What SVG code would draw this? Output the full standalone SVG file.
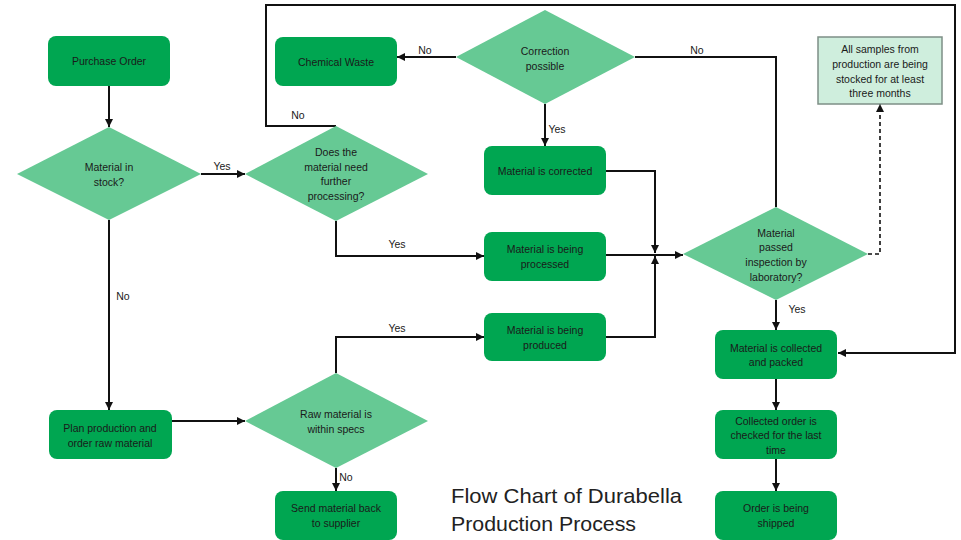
<svg xmlns="http://www.w3.org/2000/svg" width="961" height="540" viewBox="0 0 961 540">
<defs>
<marker id="ah" viewBox="0 0 10 10" refX="10" refY="5" markerWidth="8" markerHeight="8" markerUnits="userSpaceOnUse" orient="auto">
<path d="M0,0 L10,5 L0,10 z" fill="#111"/>
</marker>
<style>
.box{fill:#00a651;}
.dia{fill:#66c994;}
.note{fill:#cfeedd;stroke:#7e8f86;stroke-width:1.5;}
text{font-family:"Liberation Sans",Arial,sans-serif;font-size:10.5px;fill:#1a1a1a;text-anchor:middle;}
.lbl{text-anchor:middle;}
.ttl{font-family:"Liberation Sans",Arial,sans-serif;font-size:21px;fill:#222;text-anchor:start;}
.c{fill:none;stroke:#111;stroke-width:2;}
.ca{fill:none;stroke:#111;stroke-width:2;marker-end:url(#ah);}
.cd{fill:none;stroke:#111;stroke-width:1.6;stroke-dasharray:4,3;marker-end:url(#ah);}
</style>
</defs>
<rect width="961" height="540" fill="#ffffff"/>

<g id="connectors">
<path class="ca" d="M109,86 V127"/>
<path class="ca" d="M201,174 H245"/>
<path class="ca" d="M336,126 H266 V5 H955 V353 H838"/>
<path class="ca" d="M456,57 H397"/>
<path class="ca" d="M545,104 V146"/>
<path class="c" d="M776,207 V57 H635"/>
<path class="ca" d="M336,221 V256 H484"/>
<path class="ca" d="M336,373 V337 H484"/>
<path class="ca" d="M606,171 H655 V253"/>
<path class="ca" d="M606,337 H655 V256"/>
<path class="ca" d="M606,255 H683"/>
<path class="cd" d="M868,254 H880 V104"/>
<path class="ca" d="M109,220 V410"/>
<path class="ca" d="M172,421 H245"/>
<path class="ca" d="M336,468 V491"/>
<path class="ca" d="M776,300 V330"/>
<path class="ca" d="M776,379 V410"/>
<path class="ca" d="M776,459 V491"/>
<text x="222" y="170">Yes</text>
<text x="298" y="119">No</text>
<text x="425" y="54">No</text>
<text x="697" y="54">No</text>
<text x="557" y="133">Yes</text>
<text x="397" y="248">Yes</text>
<text x="397" y="332">Yes</text>
<text x="123" y="300">No</text>
<text x="346" y="481">No</text>
<text x="797" y="313">Yes</text>
</g>

<g id="purchase-order">
<rect class="box" x="48" y="36" width="122" height="50" rx="8"/>
<text x="109" y="65">Purchase Order</text>
</g>

<g id="material-in-stock">
<polygon class="dia" points="109,127 201,174 109,220 17,174"/>
<text x="109" y="171">Material in</text>
<text x="109" y="186">stock?</text>
</g>

<g id="further-processing">
<polygon class="dia" points="336,126 428,174 336,221 245,174"/>
<text x="336" y="156">Does the</text>
<text x="336" y="171">material need</text>
<text x="336" y="185">further</text>
<text x="336" y="200">processing?</text>
</g>

<g id="chemical-waste">
<rect class="box" x="275" y="37" width="122" height="49" rx="8"/>
<text x="336" y="66">Chemical Waste</text>
</g>

<g id="correction-possible">
<polygon class="dia" points="545,10 635,57 545,104 456,57"/>
<text x="545" y="55">Correction</text>
<text x="545" y="70">possible</text>
</g>

<g id="material-corrected">
<rect class="box" x="484" y="146" width="122" height="49" rx="8"/>
<text x="545" y="175">Material is corrected</text>
</g>

<g id="material-processed">
<rect class="box" x="484" y="232" width="122" height="49" rx="8"/>
<text x="545" y="253">Material is being</text>
<text x="545" y="268">processed</text>
</g>

<g id="material-produced">
<rect class="box" x="484" y="313" width="122" height="48" rx="8"/>
<text x="545" y="334">Material is being</text>
<text x="545" y="349">produced</text>
</g>

<g id="inspection">
<polygon class="dia" points="776,207 868,254 776,300 683,254"/>
<text x="776" y="237">Material</text>
<text x="776" y="251">passed</text>
<text x="776" y="266">inspection by</text>
<text x="776" y="281">laboratory?</text>
</g>

<g id="samples-note">
<rect class="note" x="818" y="37" width="124" height="67"/>
<text x="880" y="53">All samples from</text>
<text x="880" y="68">production are being</text>
<text x="880" y="83">stocked for at least</text>
<text x="880" y="97">three months</text>
</g>

<g id="collected-packed">
<rect class="box" x="715" y="330" width="122" height="49" rx="8"/>
<text x="776" y="352">Material is collected</text>
<text x="776" y="366">and packed</text>
</g>

<g id="checked-last-time">
<rect class="box" x="715" y="410" width="122" height="49" rx="8"/>
<text x="776" y="425">Collected order is</text>
<text x="776" y="439">checked for the last</text>
<text x="776" y="454">time</text>
</g>

<g id="shipped">
<rect class="box" x="715" y="491" width="122" height="49" rx="8"/>
<text x="776" y="512">Order is being</text>
<text x="776" y="527">shipped</text>
</g>

<g id="plan-production">
<rect class="box" x="49" y="410" width="123" height="49" rx="8"/>
<text x="110" y="432">Plan production and</text>
<text x="110" y="447">order raw material</text>
</g>

<g id="raw-within-specs">
<polygon class="dia" points="336,373 428,421 336,468 245,421"/>
<text x="336" y="418">Raw material is</text>
<text x="336" y="433">within specs</text>
</g>

<g id="send-back">
<rect class="box" x="275" y="491" width="122" height="49" rx="8"/>
<text x="336" y="512">Send material back</text>
<text x="336" y="527">to supplier</text>
</g>

<g id="title">
<text class="ttl" x="451" y="503" textLength="231" lengthAdjust="spacingAndGlyphs">Flow Chart of Durabella</text>
<text class="ttl" x="451" y="531" textLength="185" lengthAdjust="spacingAndGlyphs">Production Process</text>
</g>
</svg>
